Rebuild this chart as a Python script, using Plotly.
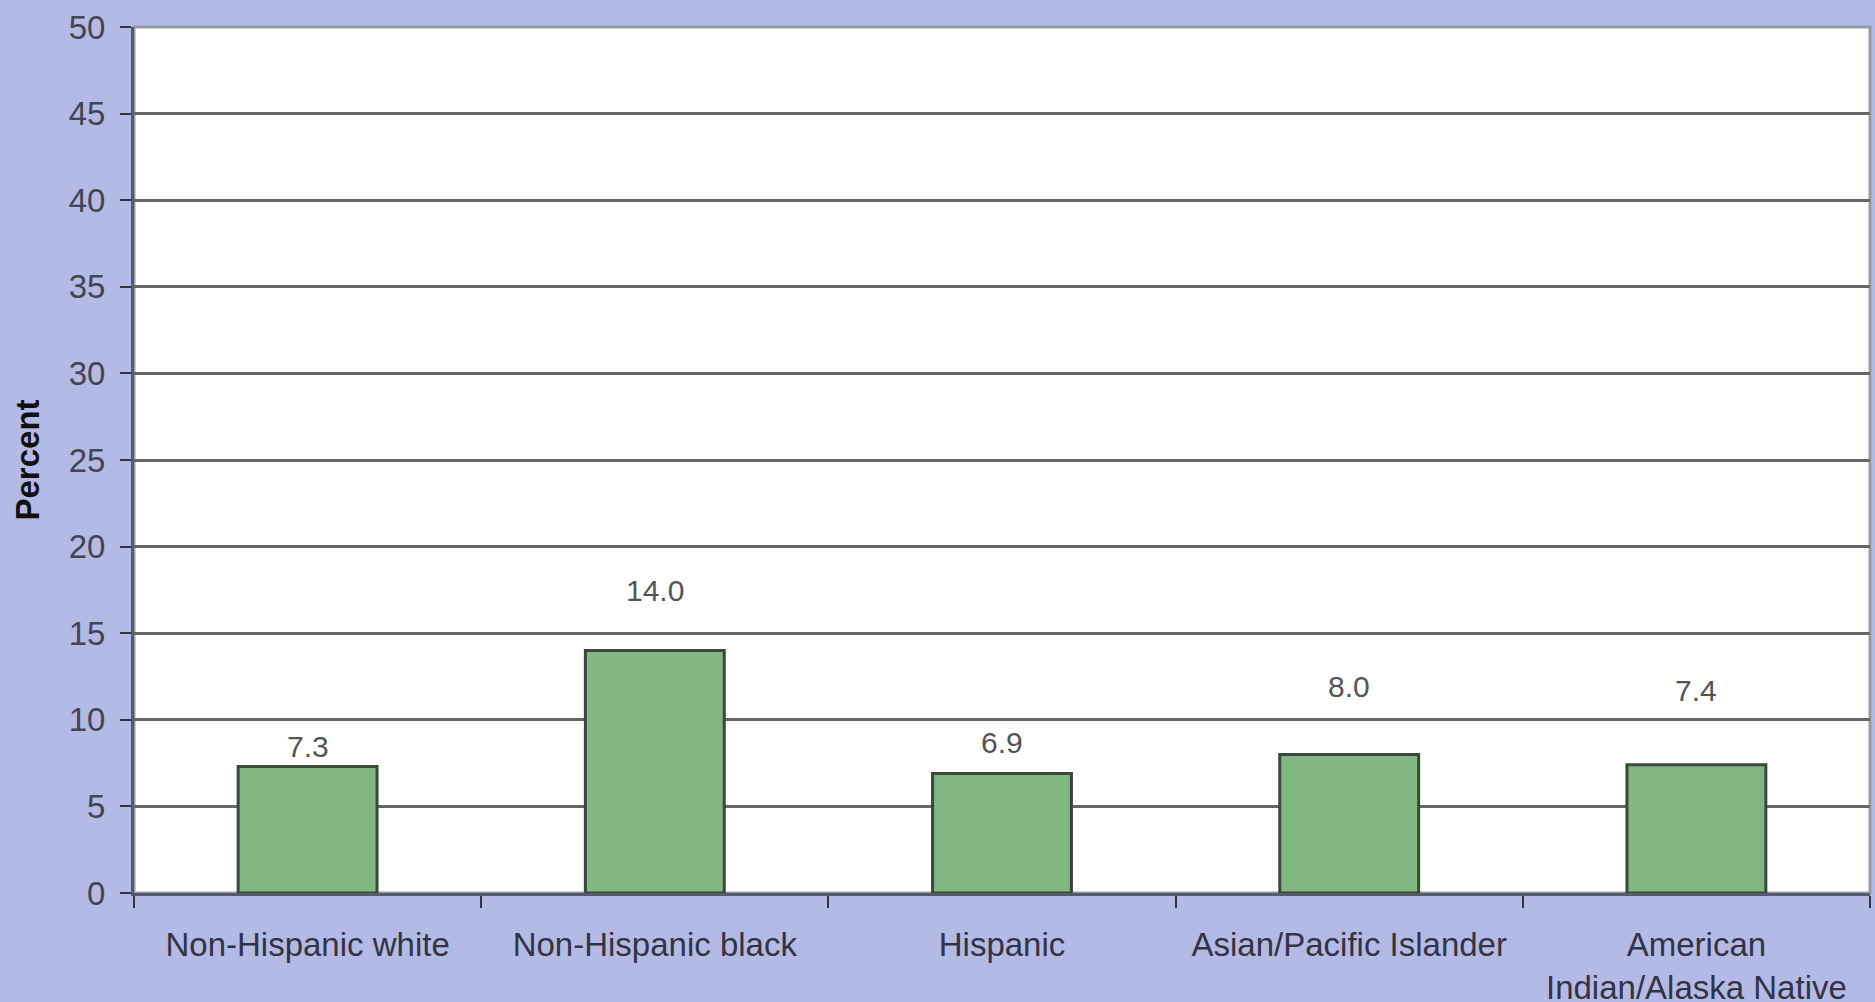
import plotly.graph_objects as go

categories = ["Non-Hispanic white", "Non-Hispanic black", "Hispanic",
              "Asian/Pacific Islander", "American<br>Indian/Alaska Native"]
values = [7.3, 14.0, 6.9, 8.0, 7.4]
value_labels = ["7.3", "14.0", "6.9", "8.0", "7.4"]
y_ticks = [0, 5, 10, 15, 20, 25, 30, 35, 40, 45, 50]

# label offsets above bar top (pixels), as placed in the original
label_shift = [20, 60, 31, 68, 74]

BG = "#B3BAE5"

fig = go.Figure()
fig.add_trace(go.Bar(
    x=categories, y=values,
    marker=dict(color="#82B782", line=dict(color="#3A4A3A", width=3)),
    width=0.4,
    hoverinfo="skip",
))

for c, v, t, s in zip(categories, values, value_labels, label_shift):
    fig.add_annotation(x=c, y=v, text=t, showarrow=False, yshift=s,
                       font=dict(family="Arial, Liberation Sans", size=30, color="#555555"))

fig.update_layout(
    width=1875, height=1002,
    paper_bgcolor=BG, plot_bgcolor="white",
    margin=dict(l=134, r=5, t=27, b=109),
    showlegend=False,
    font=dict(family="Arial, Liberation Sans", color="#333344"),
)
fig.update_xaxes(
    type="category", automargin=False,
    showline=True, linecolor="#55596E", linewidth=3,
    ticks="outside", tickson="boundaries", ticklen=12, tickwidth=2, tickcolor="#333344",
    tickfont=dict(size=33, color="#333344"),
    ticklabelstandoff=20,
    showgrid=False,
    mirror=False,
)
fig.update_yaxes(
    range=[0, 50], tickvals=y_ticks, automargin=False,
    showline=True, linecolor="#55596E", linewidth=3,
    ticks="outside", ticklen=11, tickwidth=2, tickcolor="#333344",
    tickfont=dict(size=33, color="#444455"),
    ticklabelstandoff=8,
    showgrid=True, gridcolor="#666666", gridwidth=3,
    zeroline=False,
    title=dict(text="<b>Percent</b>", font=dict(size=33, color="#111111"), standoff=20),
)
# right/top frame
fig.add_shape(type="rect", xref="paper", yref="paper", x0=0, x1=1, y0=0, y1=1,
              line=dict(color="#9A9AA6", width=3), layer="below")

fig.write_html("out.html")
